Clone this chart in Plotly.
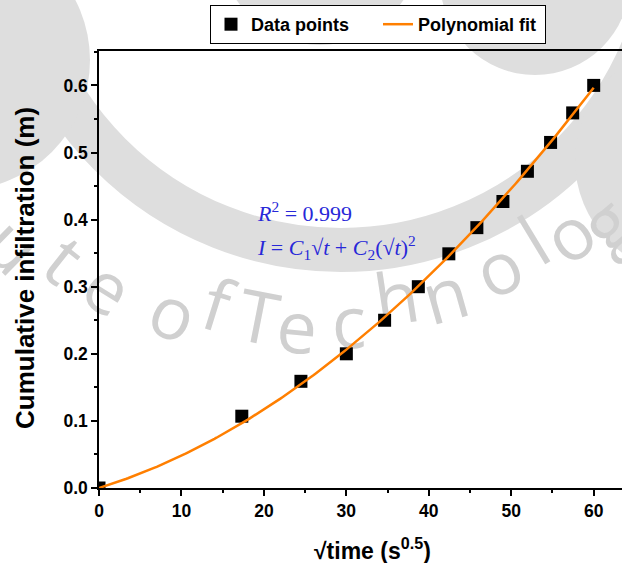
import math
import numpy as np
import plotly.graph_objects as go

# Measured infiltration against square root of elapsed time
sqrt_time = [0.0, 17.32, 24.49, 30.0, 34.64, 38.73, 42.43, 45.83, 48.99, 51.96, 54.77, 57.45, 60.0]
infiltration = [0.0, 0.107, 0.159, 0.200, 0.250, 0.300, 0.349, 0.388, 0.427, 0.472, 0.515, 0.559, 0.600]

x_tick_vals = [0, 10, 20, 30, 40, 50, 60]
y_tick_vals = [0.0, 0.1, 0.2, 0.3, 0.4, 0.5, 0.6]
r_squared_label = "0.999"

# Two-term polynomial through the origin: I = C1*sqrt(t) + C2*(sqrt(t))^2
xs = np.array(sqrt_time)
ys = np.array(infiltration)
(c1, c2), *_ = np.linalg.lstsq(np.column_stack([xs, xs ** 2]), ys, rcond=None)
x_fit = np.linspace(0, 60, 241)
y_fit = c1 * x_fit + c2 * x_fit ** 2

W, H = 622, 563
L, R, T, B = 99, 622, 51, 488
X_MAX = (R - L) / 8.245
Y_MAX = (B - T) / 671.0

def px(x):
    return (x - L) / (R - L)

def py(y):
    return (B - y) / (B - T)

AX_FONT = dict(family="Liberation Sans, Arial, sans-serif", color="black")
WM = "#dedede"

fig = go.Figure()
fig.add_trace(go.Scatter(
    x=sqrt_time, y=infiltration, mode="markers", name="Data points",
    marker=dict(symbol="square", size=13, color="black", line=dict(width=0)),
))
fig.add_trace(go.Scatter(
    x=x_fit, y=y_fit, mode="lines", name="Polynomial fit",
    line=dict(color="#FF7F00", width=2.5),
))

# background emblem
shapes = []
def circle(cx, cy, r, **kw):
    return dict(type="circle", xref="paper", yref="paper", layer="below",
                x0=px(cx - r), x1=px(cx + r), y0=py(cy + r), y1=py(cy - r), **kw)

shapes.append(circle(341, -77, 327, line=dict(color=WM, width=44), fillcolor="rgba(0,0,0,0)"))
shapes.append(circle(320, -55, 100, line=dict(width=0), fillcolor=WM))
shapes.append(circle(535, -20, 95, line=dict(width=0), fillcolor=WM))
shapes.append(circle(-40, 60, 130, line=dict(width=0), fillcolor=WM))
shapes.append(circle(690, 160, 115, line=dict(width=0), fillcolor=WM))

letters = [("u", 10, 248), ("t", 62, 262), ("e", 106, 290), ("o", 172, 316), ("f", 216, 308),
           ("T", 258, 320), ("e", 297, 330), ("c", 349, 325), ("h", 397, 301), ("n", 446, 298),
           ("o", 500, 271), ("l", 536, 243), ("o", 571, 237), ("g", 608, 226)]
for ch, lx, ly in letters:
    ang = math.degrees(math.atan2(338 - lx, ly + 85))
    shapes.append(dict(
        type="rect", xref="paper", yref="paper", layer="below",
        x0=px(lx - 1), x1=px(lx + 1), y0=py(ly + 1), y1=py(ly - 1),
        line=dict(width=0), fillcolor="rgba(0,0,0,0)",
        label=dict(text=ch, textangle=ang, textposition="middle center",
                   font=dict(family="Open Sans, DejaVu Sans, sans-serif", size=72,
                             color="#d0d0d0", weight=400)),
    ))

annotations = [
    dict(text="Cumulative infiltration (m)", xref="paper", yref="paper",
         x=px(25), y=py(268), textangle=-90, showarrow=False,
         xanchor="center", yanchor="middle",
         font=dict(size=26, weight="bold", **AX_FONT)),
    dict(text="√time (s<sup>0.5</sup>)", xref="paper", yref="paper",
         x=px(372), y=py(549), showarrow=False, xanchor="center", yanchor="middle",
         font=dict(size=23, weight="bold", **AX_FONT)),
    dict(text="<i>R</i><sup>2</sup> = " + r_squared_label, xref="paper", yref="paper",
         x=px(255), y=py(212), showarrow=False, xanchor="left", yanchor="middle",
         font=dict(family="Liberation Serif, Times New Roman, serif", size=22, color="#2828D8")),
    dict(text="<i>I</i> = <i>C</i><sub>1</sub>√<i>t</i> + <i>C</i><sub>2</sub>(√<i>t</i>)<sup>2</sup>",
         xref="paper", yref="paper", x=px(255), y=py(247), showarrow=False,
         xanchor="left", yanchor="middle",
         font=dict(family="Liberation Serif, Times New Roman, serif", size=22, color="#2828D8")),
]

axis_common = dict(
    showgrid=False, zeroline=False, showline=True, linecolor="black", linewidth=1.5,
    ticks="outside", ticklen=6, tickwidth=1.5, tickcolor="black",
    tickfont=dict(size=17.5, weight="bold", **AX_FONT),
)

fig.update_layout(
    width=W, height=H,
    margin=dict(l=L, r=W - R, t=T, b=H - B, autoexpand=False),
    paper_bgcolor="white", plot_bgcolor="rgba(0,0,0,0)",
    showlegend=True,
    legend=dict(orientation="h", x=px(210), y=py(5), xanchor="left", yanchor="top",
                entrywidth=122, entrywidthmode="pixels",
                bgcolor="white", bordercolor="black", borderwidth=1,
                font=dict(size=18, weight="bold", **AX_FONT)),
    xaxis=dict(range=[0, X_MAX], tickvals=x_tick_vals, mirror=True,
               minor=dict(dtick=5, tick0=0, ticks="outside", ticklen=3.5, tickwidth=1.5, tickcolor="black"),
               **axis_common),
    yaxis=dict(range=[0, Y_MAX], tickvals=y_tick_vals, tickformat=".1f",
               minor=dict(dtick=0.05, tick0=0, ticks="outside", ticklen=3.5, tickwidth=1.5, tickcolor="black"),
               **axis_common),
    shapes=shapes,
    annotations=annotations,
)

fig.write_html("out.html")
